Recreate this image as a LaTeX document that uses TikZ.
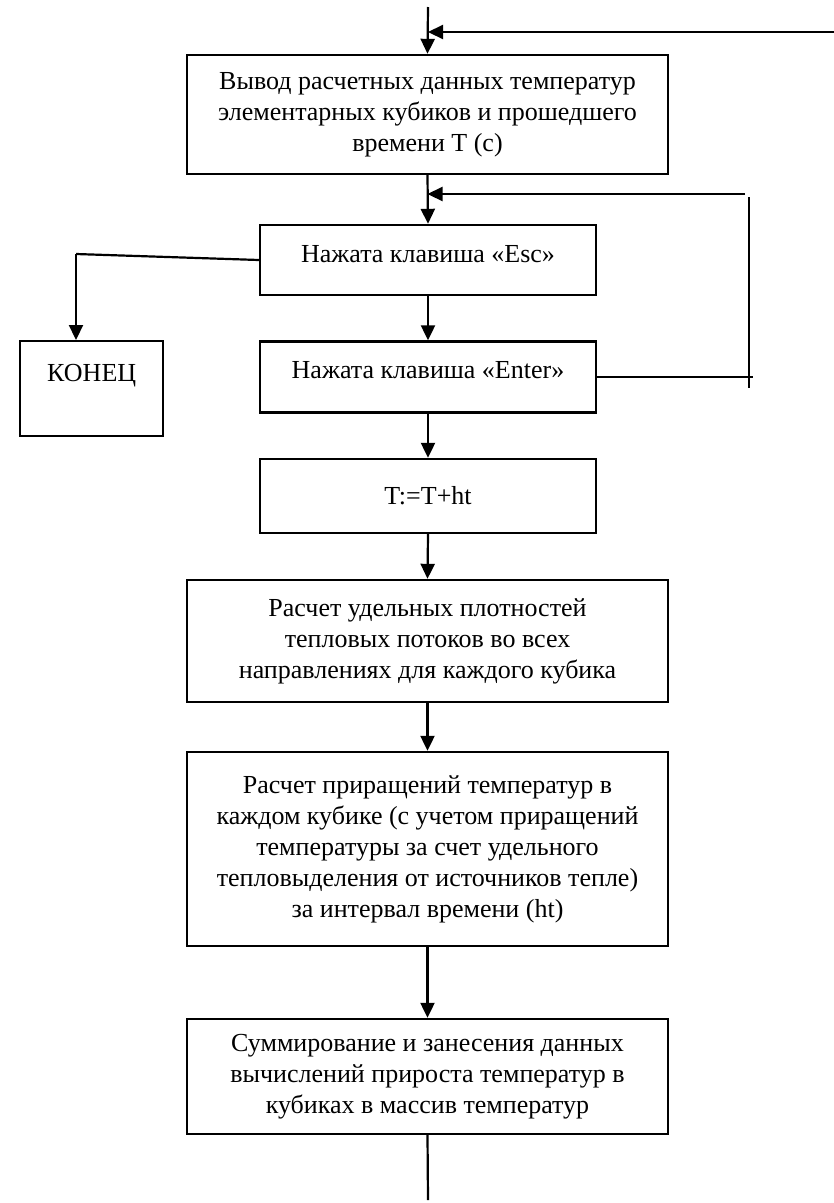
\documentclass[tikz,border=0pt]{standalone}
\usepackage{fontspec}
\setmainfont{Liberation Serif}
\usetikzlibrary{arrows.meta}
\tikzset{
	blk/.style={draw, line width=2.4pt, align=center, inner sep=0pt, font=\fontsize{26}{31}\selectfont},
	arr/.style={-{Triangle[length=15pt,width=14pt]}},
}
\begin{document}
\begin{tikzpicture}[x=1pt, y=-1pt, line width=2.2pt]
			\useasboundingbox (0,0) rectangle (834,1203);
			\node[blk, minimum width=481, minimum height=119] (out) at (427.5,114.5) {Вывод расчетных данных температур\\элементарных кубиков и прошедшего\\времени Т (с)};
			\node[blk, minimum width=336, text height=37pt, text depth=33pt] (esc) at (428,260) {Нажата клавиша «Esc»};
			\node[blk, minimum width=336, text height=37pt, text depth=34pt] (enter) at (428,377) {Нажата клавиша «Enter»};
			\node[blk, minimum width=143, text height=40pt, text depth=55pt, anchor=north west] (fin) at (19,340) {КОНЕЦ};
			\node[blk, minimum width=336, minimum height=74] (tstep) at (428,496) {T:=T+ht};
			\node[blk, minimum width=481, minimum height=122] (flux) at (427.5,641) {Расчет удельных плотностей\\тепловых потоков во всех\\направлениях для каждого кубика};
			\node[blk, minimum width=481, minimum height=194] (incr) at (427.5,849) {Расчет приращений температур в\\каждом кубике (с учетом приращений\\температуры за счет удельного\\тепловыделения от источников тепле)\\за интервал времени (ht)};
			\node[blk, minimum width=481, minimum height=115] (sum) at (427.5,1076.5) {Суммирование и занесения данных\\вычислений прироста температур в\\кубиках в массив температур};
			\coordinate (top) at (428,7);
			\coordinate (back) at (834,32);
			\coordinate (loopT) at (745,194);
			\coordinate (loopR) at (749,197);
			\coordinate (loopB) at (749,388);
			\coordinate (escL) at (76,254);
			\coordinate (bot) at (428,1200);
			\draw[arr] (top) -- (out.north);
			\draw[arr] (back) -- (top |- back);
			\draw[arr] (out.south) -- (esc.north);
			\draw[arr] (loopT) -- (out.south |- loopT);
			\draw (loopR) -- (loopB);
			\draw (enter.east) -- ++(156,0);
			\draw (esc.west) -- (escL);
			\draw[arr] (escL) -- (escL |- fin.north);
			\draw[arr] (esc.south) -- (enter.north);
			\draw[arr] (enter.south) -- (tstep.north);
			\draw[arr] (tstep.south) -- (flux.north);
			\draw[arr] (flux.south) -- (incr.north);
			\draw[arr] (incr.south) -- (sum.north);
			\draw (sum.south) -- (bot);
		\end{tikzpicture}
\end{document}
